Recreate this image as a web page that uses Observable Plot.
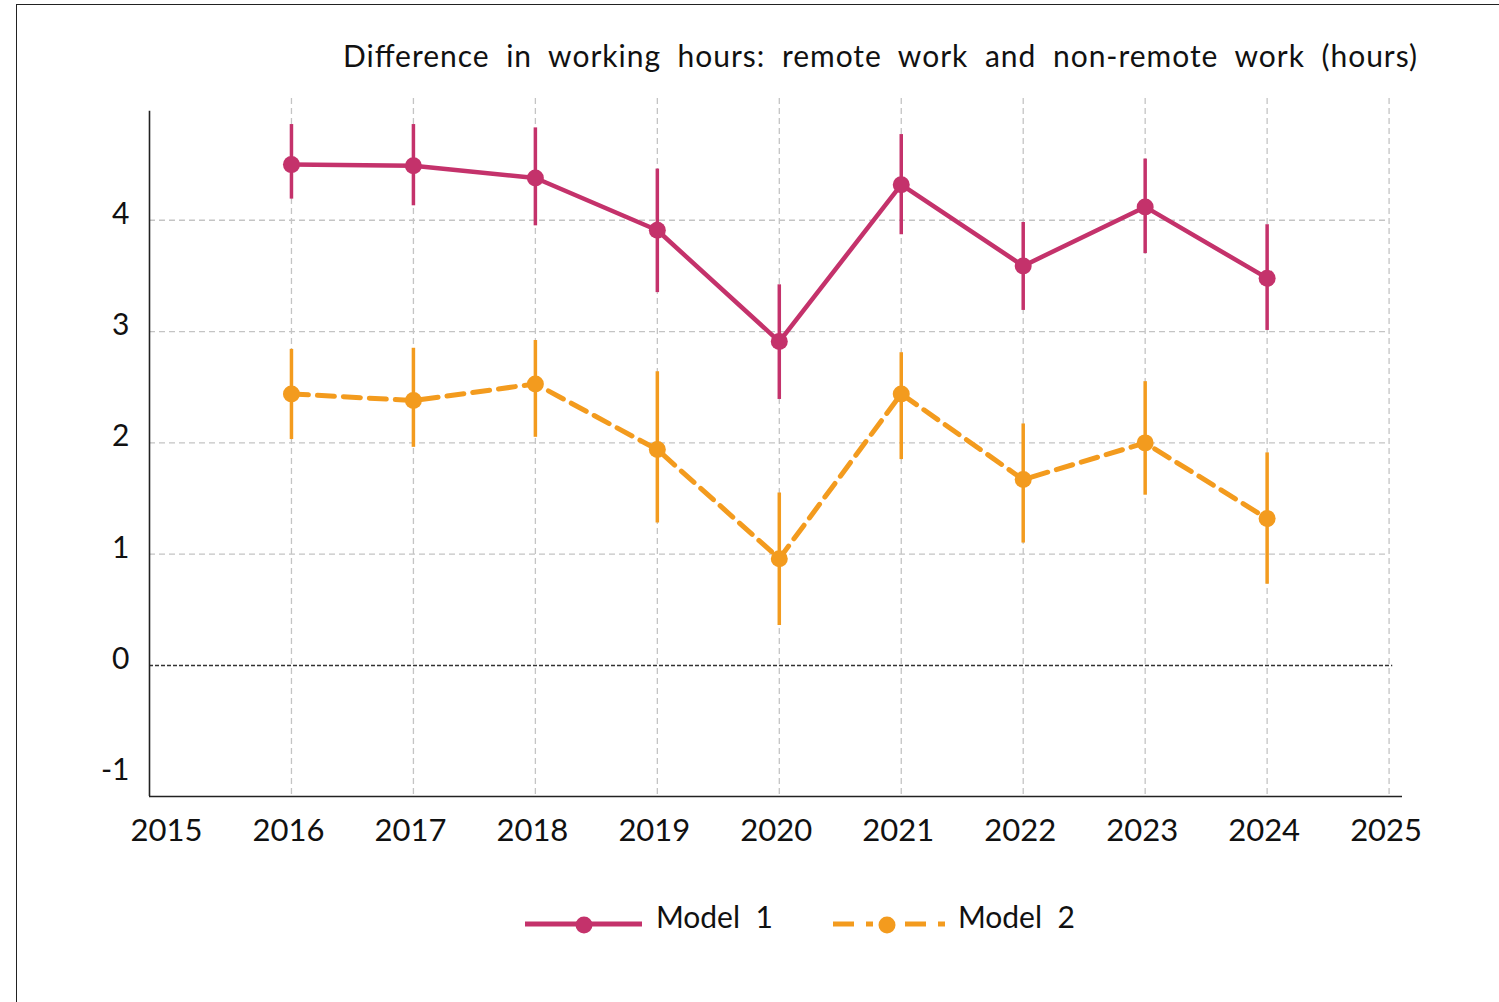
<!DOCTYPE html>
<html>
<head>
<meta charset="utf-8">
<script src="https://cdn.jsdelivr.net/npm/d3@7"></script>
<script src="https://cdn.jsdelivr.net/npm/@observablehq/plot@0.6"></script>
<style>
  html, body { margin: 0; padding: 0; background: #fff; }
  body { width: 1499px; height: 1002px; position: relative; overflow: hidden; font-family: Lato, "Open Sans", sans-serif; }
  #frame { position: absolute; left: 16px; top: 4px; width: 1600px; height: 1100px; border-left: 1.6px solid #222; border-top: 1.6px solid #222; box-sizing: border-box; }
  #chart { position: absolute; left: 0; top: 0; }
  #overlay { position: absolute; left: 0; top: 0; pointer-events: none; }
</style>
</head>
<body>
<div id="frame"></div>
<div id="chart"></div>
<svg id="overlay" width="1499" height="1002"></svg>
<script>
// ---- data ----
const years = [2016, 2017, 2018, 2019, 2020, 2021, 2022, 2023, 2024];
const model1 = [4.50, 4.49, 4.38, 3.91, 2.91, 4.32, 3.59, 4.12, 3.48];
const model1Low = [4.19, 4.13, 3.95, 3.35, 2.39, 3.87, 3.19, 3.70, 3.01];
const model1High = [4.86, 4.86, 4.83, 4.46, 3.42, 4.77, 3.98, 4.55, 3.96];
const model2 = [2.44, 2.38, 2.53, 1.94, 0.96, 2.44, 1.67, 2.00, 1.32];
const model2Low = [2.03, 1.96, 2.05, 1.28, 0.36, 1.85, 1.10, 1.53, 0.73];
const model2High = [2.84, 2.85, 2.92, 2.64, 1.55, 2.81, 2.17, 2.55, 1.91];
const xTickYears = [2015, 2016, 2017, 2018, 2019, 2020, 2021, 2022, 2023, 2024, 2025];
const gridYears = [2016, 2017, 2018, 2019, 2020, 2021, 2022, 2023, 2024, 2025];
const yTicks = [-1, 0, 1, 2, 3, 4];
const yGrid = [1, 2, 3, 4];
const seriesNames = ["Model 1", "Model 2"];
const titleText = "Difference in working hours: remote work and non-remote work (hours)";

const colors = { m1: "#C4326B", m2: "#F39B1E" };

const rows = years.map((y, i) => ({
  year: y, m1: model1[i], m1lo: model1Low[i], m1hi: model1High[i],
  m2: model2[i], m2lo: model2Low[i], m2hi: model2High[i]
}));

const xmin = 2014.836, xmax = 2025.11, ymin = -1.177, ymax = 5.094;

const plot = Plot.plot({
  width: 1499,
  height: 1002,
  marginTop: 98,
  marginBottom: 206,
  marginLeft: 149,
  marginRight: 97,
  x: { domain: [xmin, xmax], label: null },
  y: { domain: [ymin, ymax], label: null },
  style: { fontFamily: "Lato, 'Open Sans', sans-serif", background: "transparent", color: "#111" },
  marks: [
    Plot.gridX(gridYears, { stroke: "#c4c4c4", strokeOpacity: 1, strokeWidth: 1.3, strokeDasharray: "6,4" }),
    Plot.ruleY(yGrid, { x1: xmin, x2: 2025, stroke: "#c4c4c4", strokeWidth: 1.3, strokeDasharray: "6,4" }),
    Plot.ruleY([0], { x1: xmin, x2: 2025.03, stroke: "#333", strokeWidth: 1.3, strokeDasharray: "4,2" }),
    Plot.ruleX([xmin], { y1: ymin, y2: 4.98, stroke: "#222", strokeWidth: 1.6 }),
    Plot.ruleY([ymin], { x1: xmin, x2: xmax, stroke: "#222", strokeWidth: 1.6 }),
    Plot.axisX({ ticks: xTickYears, tickSize: 0, tickPadding: 22, fontSize: 31, dx: -3, label: null,
      tickFormat: d => String(d), fill: "#111" }),
    Plot.axisY({ ticks: yTicks, tickSize: 0, tickPadding: 20, fontSize: 30, dy: -6, fill: "#111", label: null,
      tickFormat: d => d < 0 ? "-" + Math.abs(d) : String(d) }),
    // Model 2
    Plot.line(rows, { x: "year", y: "m2", stroke: colors.m2, strokeWidth: 5, strokeDasharray: "17,9" }),
    Plot.ruleX(rows, { x: "year", y1: "m2lo", y2: "m2hi", stroke: colors.m2, strokeWidth: 3.5 }),
    Plot.dot(rows, { x: "year", y: "m2", r: 8.5, fill: colors.m2 }),
    // Model 1
    Plot.line(rows, { x: "year", y: "m1", stroke: colors.m1, strokeWidth: 4.5 }),
    Plot.ruleX(rows, { x: "year", y1: "m1lo", y2: "m1hi", stroke: colors.m1, strokeWidth: 3.5 }),
    Plot.dot(rows, { x: "year", y: "m1", r: 8.5, fill: colors.m1 })
  ]
});
document.getElementById("chart").appendChild(plot);

// ---- title & legend overlay ----
const ov = d3.select("#overlay");
ov.append("text")
  .attr("x", 343).attr("y", 67)
  .attr("font-family", "Lato, 'Open Sans', sans-serif")
  .attr("font-size", 30)
  .attr("word-spacing", 8)
  .attr("textLength", 1074)
  .attr("lengthAdjust", "spacing")
  .attr("fill", "#111")
  .text(titleText);

// Model 1 legend
ov.append("line").attr("x1", 525).attr("x2", 642).attr("y1", 924).attr("y2", 924)
  .attr("stroke", colors.m1).attr("stroke-width", 5);
ov.append("circle").attr("cx", 584).attr("cy", 925).attr("r", 8.5).attr("fill", colors.m1);
ov.append("text").attr("x", 656).attr("y", 928)
  .attr("font-family", "Lato, 'Open Sans', sans-serif").attr("font-size", 30)
  .attr("word-spacing", 8)
  .attr("textLength", 117).attr("lengthAdjust", "spacing")
  .attr("fill", "#111").text(seriesNames[0]);

// Model 2 legend
ov.append("line").attr("x1", 833).attr("x2", 946).attr("y1", 924).attr("y2", 924)
  .attr("stroke", colors.m2).attr("stroke-width", 5).attr("stroke-dasharray", "21,12,7,32");
ov.append("circle").attr("cx", 887).attr("cy", 925).attr("r", 8.5).attr("fill", colors.m2);
ov.append("text").attr("x", 958).attr("y", 928)
  .attr("font-family", "Lato, 'Open Sans', sans-serif").attr("font-size", 30)
  .attr("word-spacing", 8)
  .attr("textLength", 117).attr("lengthAdjust", "spacing")
  .attr("fill", "#111").text(seriesNames[1]);
</script>
</body>
</html>
